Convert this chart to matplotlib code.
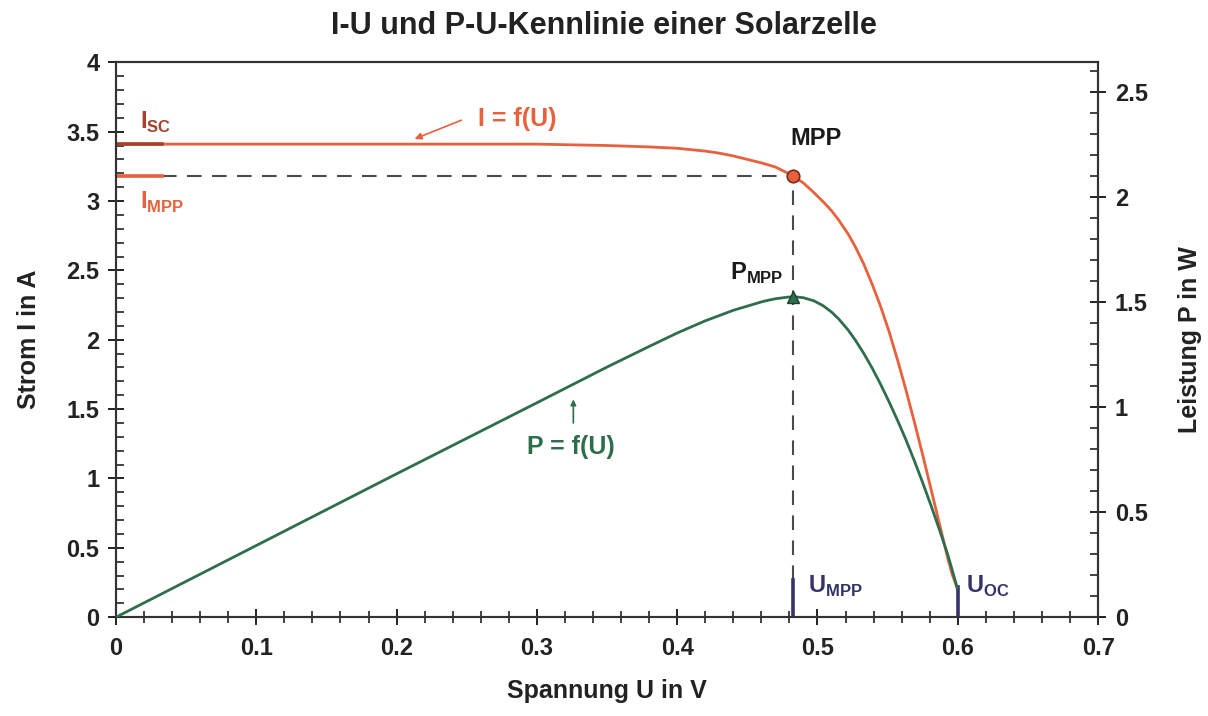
"""
Kennlinien einer Solarzelle: Strom I(U) und Leistung P(U) mit MPP-Markierung.
"""

import matplotlib

matplotlib.use("Agg")
import matplotlib.pyplot as plt
from matplotlib.ticker import MultipleLocator

u_strom = [0.0, 0.1, 0.2, 0.3, 0.35, 0.38, 0.40, 0.42, 0.43, 0.44, 0.45, 0.46, 0.47, 0.478,
           0.4825, 0.49, 0.4975, 0.505, 0.51, 0.515, 0.522, 0.527, 0.533, 0.539, 0.545,
           0.551, 0.5575, 0.563, 0.569, 0.575, 0.581, 0.587, 0.593, 0.596, 0.5996]
i_strom = [3.41, 3.41, 3.41, 3.41, 3.40, 3.39, 3.38, 3.36, 3.345, 3.325, 3.30, 3.275, 3.245,
           3.205, 3.18, 3.13, 3.06, 2.985, 2.93, 2.865, 2.76, 2.67, 2.545, 2.40, 2.24,
           2.06, 1.84, 1.64, 1.41, 1.17, 0.92, 0.67, 0.42, 0.31, 0.21]

# Leistungs-Spannungs-Kennlinie
u_leistung = [0.0, 0.1, 0.2, 0.3, 0.35, 0.38, 0.4, 0.42, 0.44, 0.45, 0.46, 0.465, 0.47, 0.478,
              0.4825, 0.49, 0.4975, 0.504, 0.51, 0.515, 0.522, 0.527, 0.533, 0.539, 0.545,
              0.551, 0.5575, 0.563, 0.569, 0.575, 0.581, 0.587, 0.593, 0.596, 0.5996]
p_leistung = [0.0, 0.341, 0.682, 1.02, 1.19, 1.288, 1.352, 1.41, 1.46, 1.48, 1.50, 1.508,
              1.515, 1.522, 1.525, 1.52, 1.505, 1.482, 1.452, 1.42, 1.365, 1.318, 1.255,
              1.185, 1.108, 1.025, 0.93, 0.845, 0.745, 0.64, 0.53, 0.415, 0.295, 0.225, 0.14]

# Kennwerte
i_sc = 3.41
u_mpp = 0.4825
i_mpp = 3.18
p_mpp = 1.525
u_oc = 0.6

ROT = "#e8603c"
DUNKELROT = "#a8402c"
GRUEN = "#2f6e4c"
BLAU = "#34346a"
GRAU = "#4a4a4a"

plt.rcParams["font.family"] = ["Liberation Sans", "DejaVu Sans"]
plt.rcParams["font.weight"] = "bold"
plt.rcParams["mathtext.fontset"] = "custom"
plt.rcParams["mathtext.rm"] = "Liberation Sans:bold"
plt.rcParams["mathtext.bf"] = "Liberation Sans:bold"

fig = plt.figure(figsize=(12.08, 7.16), dpi=100)
ax = fig.add_axes([0.096, 0.138, 0.813, 0.775])
ax2 = ax.twinx()

ax.plot(u_strom, i_strom, color=ROT, lw=2.0, zorder=3)
ax2.plot(u_leistung, p_leistung, color=GRUEN, lw=2.0, zorder=3)

# Hilfslinien zum MPP
ax.plot([0.033, u_mpp], [i_mpp, i_mpp], color=GRAU, lw=1.5, dashes=(7, 5), zorder=2)
ax.plot([u_mpp, u_mpp], [0.27, i_mpp], color=GRAU, lw=1.5, dashes=(7, 5), zorder=2)
ax.plot([0, 0.033], [i_sc, i_sc], color=DUNKELROT, lw=2.6, zorder=4)
ax.plot([0, 0.033], [i_mpp, i_mpp], color=ROT, lw=2.6, zorder=4)
ax.plot([u_mpp, u_mpp], [0, 0.27], color=BLAU, lw=2.6, zorder=4)
ax.plot([u_oc, u_oc], [0, 0.22], color=BLAU, lw=2.6, zorder=4)

ax.plot([u_mpp], [i_mpp], marker="o", ms=9, mfc=ROT, mec="#7a2a1a", mew=1.2, zorder=5)
ax2.plot([u_mpp], [p_mpp], marker="^", ms=8, mfc=GRUEN, mec="#1e4030", mew=1.0, zorder=5)

# Beschriftungen
fs = 17
ax.text(0.017, 3.57, r"$\mathrm{I}_{\mathrm{SC}}$", color=DUNKELROT, fontsize=fs, va="center")
ax.text(0.017, 2.99, r"$\mathrm{I}_{\mathrm{MPP}}$", color=ROT, fontsize=fs, va="center")
ax.text(0.286, 3.59, "I = f(U)", color=ROT, fontsize=fs + 1, ha="center", va="center")
ax.annotate("", xy=(0.211, 3.44), xytext=(0.248, 3.59),
            arrowprops=dict(arrowstyle="-|>", color=ROT, lw=1.2, mutation_scale=10))
ax.text(0.324, 1.23, "P = f(U)", color=GRUEN, fontsize=fs + 1, ha="center", va="center")
ax.annotate("", xy=(0.326, 1.59), xytext=(0.326, 1.38),
            arrowprops=dict(arrowstyle="-|>", color=GRUEN, lw=1.2, mutation_scale=8))
ax.text(0.499, 3.45, "MPP", color="#1a1a1a", fontsize=fs, ha="center", va="center")
ax.text(0.476, 2.48, r"$\mathrm{P}_{\mathrm{MPP}}$", color="#1a1a1a", fontsize=fs,
        ha="right", va="center")
ax.text(0.493, 0.22, r"$\mathrm{U}_{\mathrm{MPP}}$", color=BLAU, fontsize=fs, va="center")
ax.text(0.606, 0.22, r"$\mathrm{U}_{\mathrm{OC}}$", color=BLAU, fontsize=fs, va="center")

# Achsen
ax.set_xlim(0, 0.7)
ax.set_ylim(0, 4)
ax2.set_ylim(0, 2.64)
ax.xaxis.set_major_locator(MultipleLocator(0.1))
ax.xaxis.set_minor_locator(MultipleLocator(0.02))
ax.yaxis.set_major_locator(MultipleLocator(0.5))
ax.yaxis.set_minor_locator(MultipleLocator(0.1))
ax2.yaxis.set_major_locator(MultipleLocator(0.5))
ax2.yaxis.set_minor_locator(MultipleLocator(0.1))

ax.xaxis.set_major_formatter(lambda v, _: f"{v:g}")
ax.yaxis.set_major_formatter(lambda v, _: f"{v:g}")
ax2.yaxis.set_major_formatter(lambda v, _: f"{v:g}")

ax.tick_params(axis="x", which="major", direction="inout", length=12, width=1.4,
               labelsize=fs, pad=8, colors="#222222")
ax.tick_params(axis="x", which="minor", direction="inout", length=9, width=1.2, colors="#222222")
ax.tick_params(axis="y", which="major", direction="inout", length=12, width=1.4,
               labelsize=fs, pad=6, colors="#222222")
ax.tick_params(axis="y", which="minor", direction="in", length=6, width=1.2, colors="#222222")
ax2.tick_params(axis="y", which="major", direction="inout", length=12, width=1.4,
                labelsize=fs, pad=6, colors="#222222")
ax2.tick_params(axis="y", which="minor", direction="in", length=6, width=1.2, colors="#222222")

for a in (ax, ax2):
    for sp in a.spines.values():
        sp.set_color("#333333")
        sp.set_linewidth(1.5)

ax.set_xlabel("Spannung U in V", fontsize=18, fontweight="bold", color="#222222", labelpad=14)
ax.set_ylabel("Strom I in A", fontsize=18, fontweight="bold", color="#222222", labelpad=18)
ax2.set_ylabel("Leistung P in W", fontsize=18, fontweight="bold", color="#222222", labelpad=22)
fig.suptitle("I-U und P-U-Kennlinie einer Solarzelle", x=0.5, y=0.985, fontsize=22,
             fontweight="bold", color="#222222")

fig.savefig("out.png", dpi=100)
